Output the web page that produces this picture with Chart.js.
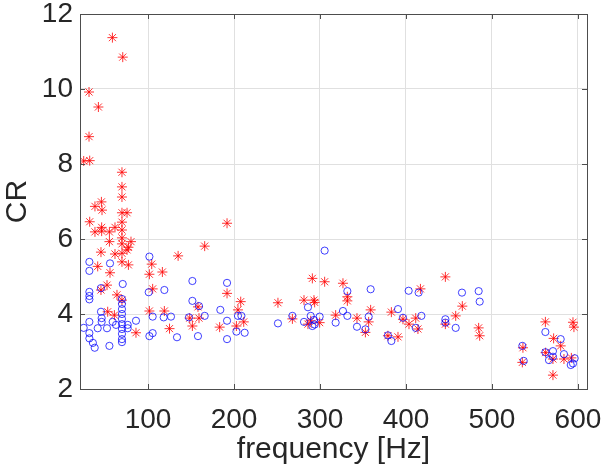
<!DOCTYPE html>
<html>
<head>
<meta charset="utf-8">
<script src="https://cdn.jsdelivr.net/npm/chart.js@4.4.1/dist/chart.umd.min.js"></script>
<style>
  html, body { margin: 0; padding: 0; background: #fff; }
  canvas { display: block; }
</style>
</head>
<body>
<canvas id="cr-chart" width="603" height="472"></canvas>
<script>
// tick labels
const xTicks = [100, 200, 300, 400, 500, 600];
const yTicks = [2, 4, 6, 8, 10, 12];

// blue circles
const freqCircle = [
  31.8, 31.8, 55.8, 101.6, 70.6, 45.3, 31.8, 31.8, 31.8, 100.8, 119.0,
  69.7, 69.7, 69.7, 69.7, 69.7, 69.7, 69.7, 69.7, 69.7, 69.7,
  45.3, 46.1, 46.1, 31.8, 25.2, 41.5, 52.3, 58.9, 62.8, 76.4, 76.4, 86.0,
  31.8, 31.8, 35.9, 38.0, 55.1, 105.4, 118.2, 126.7, 105.4, 101.6, 133.7,
  151.6, 191.9, 151.6, 159.3, 147.6, 165.9, 184.1, 204.6, 208.6, 191.9,
  158.1, 191.9, 202.8, 212.4, 251.1, 267.9, 305.4, 331.8, 358.9, 281.4,
  286.0, 289.2, 293.0, 291.1, 293.8, 299.6, 318.2, 326.7, 331.8, 343.0,
  352.8, 356.6, 379.0, 383.0, 390.7,
  403.1, 414.7, 396.5, 417.9, 411.3, 445.8, 445.8, 457.8, 465.1, 484.5, 485.7,
  535.3, 536.9, 562.1, 562.1, 566.3, 570.9, 570.9, 579.9, 583.7, 591.6, 594.2, 596.2
];
const crCircle = [
  5.39, 5.15, 5.35, 5.53, 4.80, 4.69, 4.59, 4.48, 4.39, 4.58, 4.64,
  4.40, 4.27, 4.13, 4.00, 3.87, 3.73, 3.60, 3.47, 3.33, 3.25,
  4.06, 3.89, 3.79, 3.79, 3.63, 3.62, 3.62, 3.79, 3.71, 3.71, 3.62, 3.82,
  3.49, 3.35, 3.23, 3.10, 3.15, 3.93, 3.91, 3.93, 3.49, 3.41, 3.38,
  4.88, 4.83, 4.35, 4.21, 3.91, 3.95, 4.11, 3.95, 3.95, 3.82,
  3.41, 3.33, 3.53, 3.50, 3.75, 3.95, 5.69, 4.61, 4.66, 3.79,
  4.18, 3.95, 3.84, 3.68, 3.72, 3.93, 3.77, 4.08, 3.95, 3.66,
  3.59, 3.93, 3.43, 3.28, 4.13,
  4.62, 4.57, 3.90, 3.95, 3.63, 3.86, 3.77, 3.63, 4.57, 4.61, 4.33,
  3.15, 2.75, 3.52, 2.98, 2.77, 3.01, 2.86, 3.33, 2.93, 2.64, 2.68, 2.82
];

// red asterisks
const freqStar = [
  58.6, 70.6, 31.4, 42.3, 31.4, 25.2, 32.2, 69.7, 69.7, 69.7,
  38.3, 45.8, 46.5, 32.2, 69.7, 75.6, 69.7, 38.3, 46.1, 46.1,
  55.1, 61.6, 69.7, 69.7, 69.7, 55.1, 80.2, 77.2, 75.6, 45.3,
  61.6, 69.7, 69.7, 41.5, 77.2, 55.8, 52.3, 45.3, 63.9, 69.7,
  53.1, 60.9, 86.0, 104.3, 101.6, 116.7, 135.0, 105.4, 101.6, 119.0, 125.0,
  191.9, 165.9, 191.9, 158.1, 207.8, 204.6, 159.3, 148.5, 151.6, 183.3,
  202.8, 211.3, 251.1, 267.9, 281.4, 293.0, 293.8, 291.1, 305.4, 326.7,
  331.8, 331.8, 318.2, 286.0, 289.2, 299.6, 343.0, 356.6, 358.9, 352.8,
  383.0, 390.7,
  445.8, 416.8, 396.5, 403.5, 411.3, 413.9, 379.0, 445.8, 457.8, 465.5,
  484.5, 485.7, 536.0, 535.3, 562.1, 562.4, 571.7, 570.9, 570.9, 579.9,
  583.7, 592.3, 594.2, 595.3
];
const crStar = [
  11.37, 10.85, 9.92, 9.52, 8.73, 8.08, 8.09, 7.78, 7.39, 7.12,
  6.87, 6.99, 6.77, 6.46, 6.70, 6.70, 6.45, 6.19, 6.31, 6.21,
  6.19, 6.31, 6.24, 6.03, 5.87, 5.93, 5.93, 5.78, 5.71, 5.65,
  5.60, 5.62, 5.39, 5.27, 5.31, 5.10, 4.77, 4.64, 4.51, 4.37,
  4.06, 3.97, 3.50, 5.33, 5.06, 5.12, 5.55, 4.67, 4.08, 4.08, 3.61,
  6.42, 5.81, 4.55, 4.19, 4.33, 4.11, 3.89, 3.89, 3.68, 3.65,
  3.68, 3.79, 4.30, 3.87, 4.37, 4.37, 4.31, 4.95, 4.86, 4.82,
  4.46, 4.35, 3.97, 3.73, 3.82, 3.77, 3.89, 3.79, 4.11, 3.51,
  4.05, 3.39,
  4.99, 4.67, 3.86, 3.73, 3.89, 3.60, 3.42, 3.73, 3.95, 4.21,
  3.63, 3.42, 3.10, 2.71, 3.79, 2.97, 3.35, 2.80, 2.37, 3.15,
  2.80, 2.83, 3.78, 3.65
];

const textColor = '#262626';
const boxColor = '#4d4d4d';
const gridColor = '#e0e0e0';
const fontFamily = "'Liberation Sans', Arial, Helvetica, sans-serif";

const toPoints = (xs, ys) => xs.map((x, i) => ({ x: x, y: ys[i] }));

// box round the axes, with inward ticks on all four sides (MATLAB look)
const axesBox = {
  id: 'axesBox',
  afterDatasetsDraw(chart) {
    const { ctx, chartArea: a, scales } = chart;
    const len = 5;
    ctx.save();
    ctx.strokeStyle = boxColor;
    ctx.lineWidth = 1;
    ctx.beginPath();
    xTicks.forEach(v => {
      const px = Math.round(scales.x.getPixelForValue(v)) + 0.5;
      ctx.moveTo(px, a.bottom); ctx.lineTo(px, a.bottom - len);
      ctx.moveTo(px, a.top); ctx.lineTo(px, a.top + len);
    });
    yTicks.forEach(v => {
      const py = Math.round(scales.y.getPixelForValue(v)) + 0.5;
      ctx.moveTo(a.left, py); ctx.lineTo(a.left + len, py);
      ctx.moveTo(a.right, py); ctx.lineTo(a.right - len, py);
    });
    ctx.stroke();
    ctx.strokeRect(Math.round(a.left) + 0.5, Math.round(a.top) + 0.5,
      Math.round(a.right - a.left), Math.round(a.bottom - a.top));
    ctx.restore();
  }
};

new Chart(document.getElementById('cr-chart'), {
  type: 'scatter',
  data: {
    datasets: [
      {
        label: 'circles',
        data: toPoints(freqCircle, crCircle),
        pointStyle: 'circle',
        pointRadius: 3.6,
        borderWidth: 1,
        borderColor: 'rgba(0, 0, 255, 0.75)',
        backgroundColor: 'rgba(0, 0, 0, 0)',
      },
      {
        label: 'stars',
        data: toPoints(freqStar, crStar),
        pointStyle: 'star',
        pointRadius: 5,
        borderWidth: 1,
        borderColor: 'rgba(255, 0, 0, 0.8)',
        backgroundColor: 'rgba(0, 0, 0, 0)',
      },
    ]
  },
  options: {
    responsive: false,
    animation: false,
    events: [],
    layout: { padding: { left: 0, right: 16, top: 14, bottom: 0 } },
    scales: {
      x: {
        type: 'linear',
        min: 20.9,
        max: 610.5,
        afterBuildTicks: (scale) => { scale.ticks = xTicks.map(v => ({ value: v })); },
        afterFit: (scale) => { scale.height = 83; scale.paddingLeft = 0; scale.paddingRight = 0; },
        grid: { color: gridColor, drawTicks: false },
        border: { display: false },
        ticks: {
          padding: 14,
          color: textColor,
          font: { family: fontFamily, size: 28 },
          maxRotation: 0,
        },
        title: {
          display: true,
          text: 'frequency [Hz]',
          color: textColor,
          font: { family: fontFamily, size: 30 },
          padding: { top: 0, bottom: 4 },
        },
      },
      y: {
        type: 'linear',
        min: 2,
        max: 12,
        afterBuildTicks: (scale) => { scale.ticks = yTicks.map(v => ({ value: v })); },
        afterFit: (scale) => { scale.width = 80; scale.paddingTop = 0; scale.paddingBottom = 0; },
        grid: { color: gridColor, drawTicks: false },
        border: { display: false },
        ticks: {
          padding: 7,
          color: textColor,
          font: { family: fontFamily, size: 28 },
        },
        title: {
          display: true,
          text: 'CR',
          color: textColor,
          font: { family: fontFamily, size: 30 },
          padding: { top: 0, bottom: 0 },
        },
      },
    },
    plugins: {
      legend: { display: false },
      tooltip: { enabled: false },
    },
  },
  plugins: [axesBox],
});
</script>
</body>
</html>
